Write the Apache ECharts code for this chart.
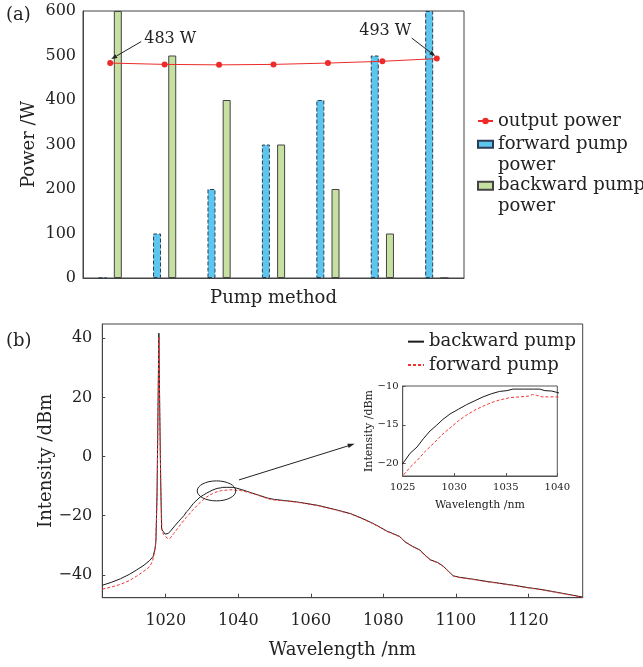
<!DOCTYPE html>
<html><head><meta charset="utf-8">
<script src="https://cdn.jsdelivr.net/npm/echarts@6/dist/echarts.min.js"></script>
<style>html,body{margin:0;padding:0;background:#fff}#c{width:643px;height:667px}</style>
</head><body><div id="c"></div>
<script>
// ---------- (a) pump method data ----------
const pumpMethods = ['F0/B600', 'F100/B500', 'F200/B400', 'F300/B300', 'F400/B200', 'F500/B100', 'F600/B0'];
const outputPower = [483, 480, 479, 480, 483, 487, 493];
const forwardPump = [0, 100, 200, 300, 400, 500, 600];
const backwardPump = [600, 500, 400, 300, 200, 100, 0];

// ---------- (b) spectra ----------
const backwardWl = [1002.5, 1005, 1007.5, 1010, 1012, 1014, 1015.5, 1016.5, 1017.0, 1017.3, 1017.6, 1017.85, 1018.1, 1018.35, 1018.6, 1018.85, 1019.3, 1019.8, 1020.2, 1020.7, 1021.5, 1022.5, 1023.5, 1024.3,
  1025.06, 1025.7, 1026.4, 1027.0, 1027.65, 1028.3, 1028.9, 1029.6, 1030.4, 1031.2, 1032.0, 1032.8, 1033.6, 1034.4, 1035.1, 1035.7, 1036.7, 1037.7, 1038.3, 1038.8, 1039.45, 1039.9,
  1041, 1042.5, 1044, 1046, 1048, 1050, 1053, 1056, 1059, 1062, 1065, 1068, 1071, 1074, 1077, 1079, 1081, 1083, 1084.5, 1086, 1088, 1090, 1091.5, 1093, 1095, 1096.5, 1098, 1099.3, 1101, 1104, 1108, 1112, 1116, 1120, 1124, 1128, 1132, 1135];
const backwardDbm = [-43.5, -42.5, -41.3, -39.8, -38.3, -36.7, -35.2, -33.8, -31.5, -28.5, -12, 15, 41.7, 15, -8, -24.5, -25.3, -26.2, -26.5, -26.0, -24.9, -23.4, -22.0, -20.9,
  -19.9, -18.7, -17.85, -16.8, -15.8, -15.05, -14.3, -13.6, -13.0, -12.4, -11.9, -11.4, -11.0, -10.7, -10.6, -10.4, -10.4, -10.4, -10.4, -10.6, -10.65, -10.8,
  -11.2, -11.8, -12.4, -13.2, -14.0, -14.5, -14.9, -15.3, -15.9, -16.5, -17.4, -18.3, -19.3, -20.8, -22.5, -23.8, -25.2, -26.2, -27.0, -28.8, -30.3, -31.5, -33.3, -34.9, -35.8, -37.0, -38.8, -40.3, -40.8, -41.3, -42.1, -42.8, -43.5, -44.3, -45.0, -45.9, -46.8, -47.5];
const forwardWl = [1002.5, 1005, 1007.5, 1010, 1012, 1014, 1015.5, 1016.3, 1016.8, 1017.2, 1017.6, 1017.85, 1018.1, 1018.35, 1018.65, 1018.95, 1019.4, 1020.0, 1020.7, 1021.3, 1022.2, 1023.2, 1024.2,
  1025.06, 1025.7, 1026.4, 1027.2, 1028.0, 1028.8, 1029.6, 1030.4, 1031.2, 1032.0, 1032.8, 1033.6, 1034.4, 1035.4, 1036.4, 1037.2, 1037.6, 1038.0, 1038.5, 1039.1, 1039.9,
  1041, 1042.5, 1044, 1046, 1048, 1050, 1053, 1056, 1059, 1062, 1065, 1068, 1071, 1074, 1077, 1079, 1081, 1083, 1084.5, 1086, 1088, 1090, 1091.5, 1093, 1095, 1096.5, 1098, 1099.3, 1101, 1104, 1108, 1112, 1116, 1120, 1124, 1128, 1132, 1135];
const forwardDbm = [-44.8, -44.1, -43.2, -41.9, -40.4, -38.7, -37.3, -35.5, -33.0, -29.8, -15, 12, 40.5, 14, -10, -25.0, -26.4, -27.1, -27.8, -27.5, -26.0, -24.4, -22.8,
  -21.5, -20.5, -19.6, -18.4, -17.4, -16.3, -15.4, -14.5, -13.75, -13.1, -12.6, -12.15, -11.8, -11.5, -11.4, -11.3, -11.1, -11.2, -11.4, -11.4, -11.4,
  -11.6, -12.0, -12.5, -13.3, -14.2, -14.7, -15.0, -15.4, -16.0, -16.6, -17.5, -18.4, -19.4, -20.9, -22.6, -23.9, -25.3, -26.3, -27.1, -28.9, -30.4, -31.6, -33.4, -35.0, -35.9, -37.1, -38.9, -40.4, -40.9, -41.4, -42.2, -42.9, -43.6, -44.4, -45.1, -46.0, -46.9, -47.6];
const spectrumXTicks = [1020, 1040, 1060, 1080, 1100, 1120];
const spectrumYTicks = [-40, -20, 0, 20, 40];
const insetYTicks = [-20, -15, -10];

const zip = (xs, ys) => xs.map((x, i) => [x, ys[i]]);
const minus = v => String(v).replace('-', '\u2212');
const plain = v => String(v);
const FONT = 'DejaVu Serif';
const AX = '#444';
const TXT = '#222';

const chart = echarts.init(document.getElementById('c'), null, {renderer: 'canvas'});

const legendText = {fontSize: 18, lineHeight: 21, fontFamily: FONT, color: TXT,
  rich: {s: {fontSize: 18, lineHeight: 21, height: 21, fontFamily: FONT}, a: {fontSize: 18, lineHeight: 21, fontFamily: FONT, color: TXT}}};
const twoLine = name => { const p = name.split('\n'); return '{s| }\n{a|' + p[0] + '}\n{a|' + p[1] + '}'; };
const hideSym = {color: 'rgba(0,0,0,0)', borderWidth: 0, opacity: 0};

const option = {
  animation: false,
  backgroundColor: '#fff',
  textStyle: {fontFamily: FONT, color: TXT},
  grid: [
    {left: 83, top: 11, width: 381, height: 267, show: true, borderColor: AX, borderWidth: 1},
    {left: 102.3, top: 324, width: 480.4, height: 273.7, show: true, borderColor: AX, borderWidth: 1},
    {left: 402.7, top: 386, width: 154.6, height: 90, show: true, borderColor: '#555', borderWidth: 1, backgroundColor: '#fff', z: 5}
  ],
  xAxis: [
    {type: 'category', gridIndex: 0, data: pumpMethods, boundaryGap: true,
      axisLabel: {show: false}, axisTick: {show: false}, axisLine: {lineStyle: {color: AX}},
      name: 'Pump method', nameLocation: 'middle', nameGap: 11, nameMoveOverlap: false, nameTextStyle: {fontSize: 18, fontFamily: FONT, color: TXT}},
    {type: 'value', gridIndex: 1, min: 1002.5, max: 1135,
      axisLine: {onZero: false, lineStyle: {color: AX}}, splitLine: {show: false},
      axisTick: {inside: true, length: 4, customValues: spectrumXTicks, lineStyle: {color: AX}},
      axisLabel: {customValues: spectrumXTicks, fontSize: 16, margin: 15, color: TXT, fontFamily: FONT, formatter: plain},
      name: 'Wavelength /nm', nameLocation: 'middle', nameGap: 44, nameMoveOverlap: false, nameTextStyle: {fontSize: 18, fontFamily: FONT, color: TXT}},
    {type: 'value', gridIndex: 2, min: 1025, max: 1040, interval: 5,
      axisLine: {onZero: false, lineStyle: {color: '#555'}}, splitLine: {show: false},
      axisTick: {inside: true, length: 3, lineStyle: {color: '#555'}},
      axisLabel: {fontSize: 10, margin: 6, color: TXT, fontFamily: FONT, formatter: plain},
      name: 'Wavelength /nm', nameLocation: 'middle', nameGap: 24, nameMoveOverlap: false, nameTextStyle: {fontSize: 11, fontFamily: FONT, color: TXT}, z: 6}
  ],
  yAxis: [
    {type: 'value', gridIndex: 0, min: 0, max: 600, interval: 100,
      axisLine: {show: true, lineStyle: {color: AX}}, axisTick: {show: false}, splitLine: {show: false},
      axisLabel: {fontSize: 16, margin: 7, color: TXT, fontFamily: FONT},
      name: 'Power /W', nameLocation: 'middle', nameGap: 45, nameMoveOverlap: false, nameTextStyle: {fontSize: 18, fontFamily: FONT, color: TXT}},
    {type: 'value', gridIndex: 1, min: -47.7, max: 44.8,
      axisLine: {show: true, onZero: false, lineStyle: {color: AX}}, splitLine: {show: false},
      axisTick: {show: true, inside: true, length: 3, customValues: spectrumYTicks, lineStyle: {color: AX}},
      axisLabel: {customValues: spectrumYTicks, fontSize: 16, margin: 10, color: TXT, fontFamily: FONT, formatter: minus},
      name: 'Intensity /dBm', nameLocation: 'middle', nameGap: 47, nameMoveOverlap: false, nameTextStyle: {fontSize: 18, fontFamily: FONT, color: TXT}},
    {type: 'value', gridIndex: 2, min: -21.6, max: -10,
      axisLine: {show: true, onZero: false, lineStyle: {color: '#555'}}, splitLine: {show: false},
      axisTick: {show: true, inside: true, length: 3, customValues: insetYTicks, lineStyle: {color: '#555'}},
      axisLabel: {customValues: insetYTicks, fontSize: 10, margin: 4, color: TXT, fontFamily: FONT, formatter: minus},
      name: 'Intensity /dBm', nameLocation: 'middle', nameGap: 28, nameMoveOverlap: false, nameTextStyle: {fontSize: 11, fontFamily: FONT, color: TXT}, z: 6}
  ],
  legend: [
    {left: 477, top: 110.5, padding: 0, orient: 'vertical', itemWidth: 15, itemHeight: 8, itemGap: 0,
      textStyle: {fontSize: 18, lineHeight: 21, fontFamily: FONT, color: TXT},
      data: [{name: 'output power'}]},
    {left: 477, top: 112.7, padding: 0, orient: 'vertical', itemWidth: 15, itemHeight: 7, itemGap: 0,
      textStyle: legendText, formatter: twoLine,
      data: [{name: 'forward pump\npower', icon: 'rect'}]},
    {left: 477, top: 154.3, padding: 0, orient: 'vertical', itemWidth: 15, itemHeight: 8, itemGap: 0,
      textStyle: legendText, formatter: twoLine,
      data: [{name: 'backward pump\npower', icon: 'rect'}]},
    {left: 407, top: 330, padding: 0, orient: 'vertical', itemWidth: 16, itemHeight: 8, itemGap: 0,
      textStyle: {fontSize: 18, lineHeight: 23.3, fontFamily: FONT, color: TXT},
      data: [{name: 'backward pump', itemStyle: hideSym}, {name: 'forward pump', itemStyle: hideSym}]}
  ],
  series: [
    {name: 'output power', type: 'line', xAxisIndex: 0, yAxisIndex: 0, data: outputPower, z: 4,
      symbol: 'circle', symbolSize: 6, itemStyle: {color: '#ee2b2b'}, lineStyle: {color: '#ee2b2b', width: 1}},
    {name: 'forward pump\npower', type: 'bar', xAxisIndex: 0, yAxisIndex: 0, data: forwardPump, barWidth: 8, barGap: '90%',
      itemStyle: {color: '#5cc6ef', borderColor: '#2d3b55', borderWidth: 1, borderType: 'dashed'}},
    {name: 'backward pump\npower', type: 'bar', xAxisIndex: 0, yAxisIndex: 0, data: backwardPump, barWidth: 8, barGap: '90%',
      itemStyle: {color: '#c6e0a2', borderColor: '#444', borderWidth: 1}},
    {name: 'backward pump', type: 'line', xAxisIndex: 1, yAxisIndex: 1, data: zip(backwardWl, backwardDbm), symbol: 'none',
      lineStyle: {color: '#1a1a1a', width: 1}, itemStyle: {color: '#1a1a1a'}},
    {name: 'forward pump', type: 'line', xAxisIndex: 1, yAxisIndex: 1, data: zip(forwardWl, forwardDbm), symbol: 'none',
      lineStyle: {color: '#ee3535', width: 1, type: [3, 2]}, itemStyle: {color: '#ee3535'}},
    {name: 'backward pump', type: 'line', xAxisIndex: 2, yAxisIndex: 2, data: zip(backwardWl, backwardDbm), symbol: 'none', clip: true, z: 7,
      lineStyle: {color: '#1a1a1a', width: 1}, itemStyle: {color: '#1a1a1a'}},
    {name: 'forward pump', type: 'line', xAxisIndex: 2, yAxisIndex: 2, data: zip(forwardWl, forwardDbm), symbol: 'none', clip: true, z: 7,
      lineStyle: {color: '#ee3535', width: 1, type: [3, 2]}, itemStyle: {color: '#ee3535'}}
  ]
};
chart.setOption(option);

function arrow(x1, y1, x2, y2, hl, hw) {
  const a = Math.atan2(y2 - y1, x2 - x1), c = Math.cos(a), s = Math.sin(a);
  const bx = x2 - hl * c, by = y2 - hl * s;
  return [
    {type: 'line', z: 50, shape: {x1: x1, y1: y1, x2: bx, y2: by}, style: {stroke: '#222', lineWidth: 1}},
    {type: 'polygon', z: 50, shape: {points: [[x2, y2], [bx + hw * s, by - hw * c], [bx - hw * s, by + hw * c]]}, style: {fill: '#222'}}
  ];
}
const p0 = chart.convertToPixel({xAxisIndex: 0, yAxisIndex: 0}, [0, outputPower[0]]);
const p6 = chart.convertToPixel({xAxisIndex: 0, yAxisIndex: 0}, [6, outputPower[6]]);
const ell = chart.convertToPixel({xAxisIndex: 1, yAxisIndex: 1}, [1034, -11.6]);
const aS = chart.convertToPixel({xAxisIndex: 1, yAxisIndex: 1}, [1040.2, -7.9]);
const aE = chart.convertToPixel({xAxisIndex: 1, yAxisIndex: 1}, [1072.1, 4.3]);
const lab = (t, x, y, size, align) => ({type: 'text', z: 50, x: x, y: y,
  style: {text: t, font: size + 'px "DejaVu Serif"', fill: TXT, align: align || 'left', verticalAlign: 'middle'}});
chart.setOption({graphic: [
  lab('(a)', 6, 15, 18),
  lab('(b)', 6, 341, 18),
  lab('483 W', p0[0] + 34, p0[1] - 24.5, 16),
  lab('493 W', p6[0] - 25.5, p6[1] - 27.5, 16, 'right'),
  ...arrow(p0[0] + 31, p0[1] - 21.5, p0[0] + 1, p0[1] - 4, 6, 2.2),
  ...arrow(p6[0] - 25, p6[1] - 20.5, p6[0] - 1.5, p6[1] - 2.5, 6, 2.2),
  {type: 'ellipse', z: 50, shape: {cx: ell[0], cy: ell[1], rx: 19.3, ry: 10}, style: {fill: 'none', stroke: '#222', lineWidth: 1}},
  ...arrow(aS[0], aS[1], aE[0], aE[1], 7, 2.2)
]});
</script>
</body></html>
